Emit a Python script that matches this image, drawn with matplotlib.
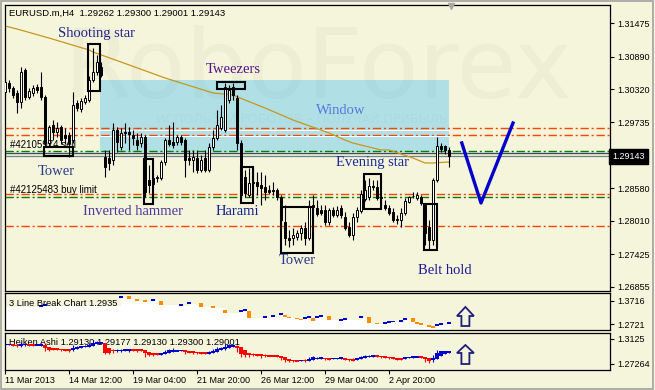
import matplotlib.pyplot as plt
from matplotlib.patches import Rectangle, Polygon
from matplotlib.transforms import blended_transform_factory
import numpy as np

plt.rcParams['font.family'] = ['Liberation Sans', 'DejaVu Sans']

# EURUSD.m H4 candles, bar 0 = 11 Mar 2013 20:00
opens = [1.3027, 1.3043, 1.3034, 1.3025, 1.3009, 1.3066, 1.3018, 1.3025, 1.3036, 1.3036,
         1.3018, 1.2938, 1.2969, 1.2957, 1.2966, 1.2952, 1.2952, 1.2943, 1.3008, 1.2997,
         1.3009, 1.3013, 1.3048, 1.3062, 1.3071, 1.2913, 1.2911, 1.2908, 1.2960, 1.2931,
         1.2957, 1.2957, 1.2952, 1.2943, 1.2938, 1.2948, 1.2873, 1.2876, 1.2876, 1.2876,
         1.2904, 1.2943, 1.2939, 1.2939, 1.2948, 1.2943, 1.2911, 1.2908, 1.2911, 1.2890,
         1.2911, 1.2890, 1.2931, 1.2946, 1.2964, 1.2960, 1.3013, 1.3036, 1.3017, 1.2938,
         1.2878, 1.2846, 1.2869, 1.2869, 1.2864, 1.2860, 1.2855, 1.2855, 1.2855, 1.2843,
         1.2799, 1.2771, 1.2771, 1.2773, 1.2780, 1.2789, 1.2771, 1.2825, 1.2824, 1.2820,
         1.2820, 1.2799, 1.2820, 1.2811, 1.2824, 1.2808, 1.2790, 1.2776, 1.2808, 1.2818,
         1.2839, 1.2843, 1.2862, 1.2860, 1.2841, 1.2829, 1.2824, 1.2817, 1.2803, 1.2803,
         1.2815, 1.2834, 1.2845, 1.2841, 1.2843, 1.2829, 1.2790, 1.2767, 1.2873, 1.2932,
         1.2932, 1.2925]
highs = [1.3052, 1.3048, 1.3038, 1.3031, 1.3071, 1.3069, 1.3034, 1.3039, 1.3041, 1.3062,
         1.3022, 1.2969, 1.2978, 1.2974, 1.2969, 1.2964, 1.2957, 1.3027, 1.3013, 1.3017,
         1.3022, 1.3055, 1.3104, 1.3092, 1.3080, 1.2925, 1.2925, 1.2973, 1.2966, 1.2964,
         1.2973, 1.2966, 1.2960, 1.2955, 1.2955, 1.2952, 1.2899, 1.2887, 1.2881, 1.2908,
         1.2946, 1.2969, 1.2974, 1.2952, 1.2952, 1.2946, 1.2925, 1.2925, 1.2925, 1.2917,
         1.2925, 1.2938, 1.2960, 1.2995, 1.3004, 1.3043, 1.3039, 1.3043, 1.3022, 1.2943,
         1.2890, 1.2894, 1.2894, 1.2887, 1.2887, 1.2881, 1.2864, 1.2869, 1.2859, 1.2846,
         1.2829, 1.2785, 1.2789, 1.2785, 1.2794, 1.2799, 1.2838, 1.2846, 1.2838, 1.2829,
         1.2829, 1.2824, 1.2825, 1.2827, 1.2829, 1.2817, 1.2799, 1.2815, 1.2825, 1.2855,
         1.2873, 1.2876, 1.2873, 1.2873, 1.2846, 1.2838, 1.2829, 1.2824, 1.2811, 1.2824,
         1.2841, 1.2845, 1.2852, 1.2852, 1.2846, 1.2832, 1.2803, 1.2876, 1.2948, 1.2938,
         1.2934, 1.2931]
lows = [1.3022, 1.3027, 1.3017, 1.2990, 1.2999, 1.3013, 1.3015, 1.3020, 1.3025, 1.3013,
        1.2932, 1.2932, 1.2943, 1.2948, 1.2936, 1.2936, 1.2913, 1.2938, 1.2994, 1.2992,
        1.3006, 1.3009, 1.3045, 1.3057, 1.3053, 1.2878, 1.2890, 1.2899, 1.2922, 1.2925,
        1.2938, 1.2925, 1.2934, 1.2925, 1.2931, 1.2843, 1.2850, 1.2859, 1.2869, 1.2873,
        1.2899, 1.2932, 1.2929, 1.2934, 1.2934, 1.2878, 1.2899, 1.2887, 1.2885, 1.2887,
        1.2887, 1.2887, 1.2925, 1.2943, 1.2960, 1.2957, 1.3008, 1.3013, 1.2925, 1.2843,
        1.2843, 1.2843, 1.2855, 1.2846, 1.2829, 1.2838, 1.2848, 1.2846, 1.2838, 1.2794,
        1.2759, 1.2755, 1.2759, 1.2767, 1.2767, 1.2759, 1.2767, 1.2820, 1.2810, 1.2811,
        1.2794, 1.2794, 1.2808, 1.2808, 1.2806, 1.2785, 1.2773, 1.2767, 1.2799, 1.2815,
        1.2836, 1.2838, 1.2855, 1.2838, 1.2829, 1.2820, 1.2811, 1.2799, 1.2795, 1.2790,
        1.2811, 1.2832, 1.2841, 1.2838, 1.2829, 1.2759, 1.2750, 1.2759, 1.2869, 1.2922,
        1.2918, 1.2896]
closes = [1.3045, 1.3034, 1.3022, 1.3009, 1.3062, 1.3018, 1.3029, 1.3034, 1.3031, 1.3018,
          1.2938, 1.2966, 1.2957, 1.2964, 1.2943, 1.2946, 1.2938, 1.3004, 1.2999, 1.3011,
          1.3017, 1.3048, 1.3062, 1.3080, 1.3057, 1.2896, 1.2903, 1.2960, 1.2939, 1.2955,
          1.2955, 1.2953, 1.2946, 1.2934, 1.2948, 1.2852, 1.2864, 1.2866, 1.2878, 1.2904,
          1.2943, 1.2936, 1.2934, 1.2948, 1.2939, 1.2908, 1.2908, 1.2913, 1.2890, 1.2908,
          1.2890, 1.2931, 1.2946, 1.2969, 1.2983, 1.3036, 1.3031, 1.3022, 1.2938, 1.2846,
          1.2850, 1.2867, 1.2867, 1.2862, 1.2859, 1.2852, 1.2852, 1.2853, 1.2843, 1.2803,
          1.2771, 1.2767, 1.2776, 1.2780, 1.2789, 1.2771, 1.2825, 1.2829, 1.2813, 1.2815,
          1.2799, 1.2820, 1.2811, 1.2820, 1.2811, 1.2789, 1.2776, 1.2808, 1.2820, 1.2848,
          1.2855, 1.2862, 1.2860, 1.2841, 1.2843, 1.2824, 1.2815, 1.2803, 1.2805, 1.2815,
          1.2836, 1.2843, 1.2845, 1.2846, 1.2832, 1.2780, 1.2767, 1.2873, 1.2932, 1.2927,
          1.2925, 1.29143]

# moving average read at some bars
ma_bar = [0, 3, 11, 21, 22, 29, 40, 52, 57, 60, 65, 72, 81, 85, 87, 94, 96, 102, 105, 107, 111]
ma_val = [1.31428, 1.31375, 1.31217, 1.31007, 1.30972, 1.30796, 1.30516, 1.30253, 1.30218, 1.30130,
          1.29990, 1.29779, 1.29551, 1.29428, 1.29375, 1.29253, 1.29253, 1.29112, 1.29025, 1.29025,
          1.29042]

# order / level lines
orange_levels = [1.29637, 1.29519, 1.28476, 1.27925]
green_levels = [1.29241, 1.28434]
price_ticks = [1.31475, 1.30890, 1.30320, 1.29735, 1.28580, 1.28010, 1.27425, 1.26855]
last_price = 1.29143

# candle pattern boxes: (first bar, last bar, low, high)
boxes = [(20.75, 23.75, 1.30288, 1.31112), (9.75, 17, 1.29147, 1.29305),
         (53, 60, 1.30323, 1.30446), (34.75, 37, 1.28306, 1.29095),
         (59, 62, 1.28323, 1.28955), (69, 77, 1.27446, 1.28253),
         (89.75, 94, 1.28218, 1.28832), (104.75, 108, 1.27499, 1.28306)]
labels = [('Shooting star', 22.75, 1.31305, '#23238c'), ('Tweezers', 57.1, 1.30656, '#55118c'),
          ('Window', 84, 1.29937, '#5577dd'), ('Tower', 12.9, 1.28867, '#2a3a8a'),
          ('Inverted hammer', 31.9, 1.28165, '#4a3a9a'), ('Harami', 58, 1.28165, '#10208c'),
          ('Tower', 73.1, 1.27306, '#2a3a8a'), ('Evening star', 91.75, 1.29025, '#1a2a9a'),
          ('Belt hold', 110, 1.27131, '#1a1a9a')]

# 3 line break bricks
lb_bar = [9, 10, 29, 31, 33, 35, 37, 39, 44, 46, 49, 52, 55, 59, 60, 61, 65, 67, 69, 70,
          71, 73, 74, 75, 76, 77, 78, 79, 81, 84, 85, 89, 91, 93, 95, 96, 97, 99, 100, 102,
          103, 104, 106, 107, 108, 109, 111]
lb_hi = [1.3532, 1.3575, 1.3917, 1.3917, 1.3789, 1.3746, 1.3789, 1.3703, 1.3575, 1.3660,
         1.3618, 1.3490, 1.3319, 1.3319, 1.3362, 1.3276, 1.3063, 1.3105, 1.3191, 1.3105,
         1.3020, 1.2977, 1.2935, 1.3020, 1.3063, 1.2977, 1.3063, 1.3105, 1.3063, 1.2935,
         1.2977, 1.3063, 1.3020, 1.2764, 1.2806, 1.2849, 1.2849, 1.2892, 1.2977, 1.2977,
         1.2806, 1.2764, 1.2678, 1.2636, 1.2721, 1.2764, 1.2806]
lb_lo = [1.3447, 1.3490, 1.3831, 1.3789, 1.3703, 1.3660, 1.3703, 1.3532, 1.3490, 1.3575,
         1.3447, 1.3404, 1.3191, 1.3233, 1.3276, 1.2977, 1.2977, 1.3020, 1.3105, 1.3020,
         1.2977, 1.2935, 1.2892, 1.2935, 1.2977, 1.2849, 1.2977, 1.3020, 1.2892, 1.2849,
         1.2892, 1.2977, 1.2764, 1.2721, 1.2721, 1.2764, 1.2806, 1.2806, 1.2892, 1.2806,
         1.2721, 1.2678, 1.2593, 1.2550, 1.2636, 1.2678, 1.2721]
lb_up = [1, 1, 1, 0, 0, 0, 1, 0, 1, 1, 0, 0, 0, 1, 1, 0, 1, 1, 1, 0,
         0, 0, 0, 1, 1, 0, 1, 1, 0, 1, 1, 1, 0, 0, 1, 1, 1, 1, 1, 0,
         0, 0, 0, 0, 1, 1, 1]

date_bars = [0, 16, 32, 48, 64, 80, 96]
date_labels = ['11 Mar 2013', '14 Mar 12:00', '19 Mar 04:00', '21 Mar 20:00',
               '26 Mar 12:00', '29 Mar 04:00', '2 Apr 20:00']

# forecast V line
v_bar = [114.2, 119, 127]
v_val = [1.29376, 1.28323, 1.29726]

bg = '#F5F5DC'
W, H = 655, 390
fig = plt.figure(figsize=(6.55, 3.9), dpi=100)
fig.patch.set_facecolor(bg)

def box(x0, y0, x1, y1):
    return [x0 / W, 1 - y1 / H, (x1 - x0) / W, (y1 - y0) / H]

ax = fig.add_axes(box(5, 4.5, 610, 291))
ax1 = fig.add_axes(box(5, 293.3, 610, 330))
ax2 = fig.add_axes(box(5, 332.7, 610, 370))

for a in (ax, ax1, ax2):
    a.set_facecolor(bg)
    a.set_xlim(0, 151.25)
    for s in a.spines.values():
        s.set_linewidth(0.9)
    a.yaxis.tick_right()
    a.tick_params(axis='y', direction='out', length=3, width=0.8, pad=2, labelsize=6.5)
    a.tick_params(axis='x', bottom=False, labelbottom=False)

# ---- main chart ----
ax.set_ylim(1.26779, 1.31805)
ax.set_yticks(price_ticks)
ax.set_yticklabels(['%.5f' % p for p in price_ticks])

ax.add_patch(Rectangle((23.75, 1.29218), 111 - 23.75, 1.30481 - 1.29218,
                       facecolor='#B0E0E6', edgecolor='none', zorder=1))
# faint watermark
ax.text(78.25, 1.30639, 'RoboForex', fontsize=70, color='#707060', alpha=0.05,
        ha='center', va='center', family='DejaVu Sans', zorder=1.5)
ax.text(110.5, 1.29779, 'ИСПОЛЬЗУЙ РОБОТОВ – ПОЛУЧАЙ ПРИБЫЛЬ', fontsize=9, color='#707060',
        alpha=0.06, ha='right', va='center', family='DejaVu Sans', zorder=1.5)

dd = (6, 2, 1.5, 2)
for lv in orange_levels:
    ax.axhline(lv, color='#FF4500', lw=1.0, dashes=dd, zorder=2)
for lv in green_levels:
    ax.axhline(lv, color='#008000', lw=1.0, dashes=dd, zorder=2)
for lv in [orange_levels[0] - 0.00038, orange_levels[1] - 0.00028]:
    ax.plot([23.75, 111], [lv, lv], color='white', lw=0.7, zorder=2)
ax.axhline(1.29200, color='#37505E', lw=1.0, zorder=2)
ax.axhline(last_price, color='#6E8290', lw=0.9, zorder=2)

ax.plot(ma_bar, ma_val, color='#C8961E', lw=0.9, zorder=2.5)

x = np.arange(len(opens))
ax.vlines(x, lows, highs, color='black', lw=0.8, zorder=3)
for i in range(len(opens)):
    o, c = opens[i], closes[i]
    up = c >= o
    ax.add_patch(Rectangle((i - 0.36, min(o, c)), 0.72, max(abs(c - o), 0.00004),
                           facecolor='white' if up else 'black', edgecolor='black',
                           lw=0.7, zorder=3.1))

for b in boxes:
    ax.add_patch(Rectangle((b[0], b[2]), b[1] - b[0], b[3] - b[2], fill=False,
                           edgecolor='black', lw=1.5, zorder=4))

for t, bx, by, col in labels:
    ax.text(bx, by, t, fontsize=10.5, color=col, family='Liberation Serif',
            ha='center', va='center', zorder=5)

ax.text(1.25, 1.29341, '#42105974 sell', fontsize=7, ha='left', va='center', zorder=5)
ax.text(1.25, 1.28551, '#42125483 buy limit', fontsize=7, ha='left', va='center', zorder=5)
ax.text(0.0066, 0.970, 'EURUSD.m,H4  1.29262 1.29300 1.29001 1.29143', fontsize=6.8,
        transform=ax.transAxes, ha='left', va='center', zorder=5)

ax.plot(v_bar, v_val, color='#0000CD', lw=2.4, zorder=5)
ax.plot([111.6], [1.3177], marker='v', color='#A8A8A8', ms=5, clip_on=False, zorder=6)

tr = blended_transform_factory(ax.transAxes, ax.transData)
ax.text(1.004, last_price, '1.29143', transform=tr, color='white', fontsize=6.5,
        ha='left', va='center', zorder=7,
        bbox=dict(boxstyle='square,pad=0.35', facecolor='black', edgecolor='black'))

# ---- 3 line break ----
ax1.set_ylim(1.24648, 1.40319)
ax1.set_yticks([1.3716, 1.2721])
ax1.set_yticklabels(['1.3716', '1.2721'])
fx = [0] + lb_bar + [111.6]
fy = [1.3447] + lb_lo + [lb_lo[-1]]
ax1.fill_between(fx, 1.2, fy, step='post', color='white', lw=0, zorder=1)
for i in range(len(lb_bar)):
    ax1.add_patch(Rectangle((lb_bar[i] - 0.45, lb_lo[i]), 0.9, lb_hi[i] - lb_lo[i],
                            facecolor='#0000CD' if lb_up[i] else '#FF8C00',
                            edgecolor='none', zorder=2))
ax1.text(0.0066, 0.722, '3 Line Break Chart 1.2935', fontsize=6.7, transform=ax1.transAxes,
         ha='left', va='center', zorder=3)

# ---- heiken ashi ----
o = np.array(opens); h = np.array(highs); l = np.array(lows); c = np.array(closes)
ha_c = (o + h + l + c) / 4
ha_o = np.zeros(len(o))
ha_o[0] = (o[0] + c[0]) / 2
for i in range(1, len(o)):
    ha_o[i] = (ha_o[i - 1] + ha_c[i - 1]) / 2
ha_h = np.maximum(h, np.maximum(ha_o, ha_c))
ha_l = np.minimum(l, np.minimum(ha_o, ha_c))
ha_col = np.where(ha_c >= ha_o, '#0000CD', '#FF0000')

ax2.set_ylim(1.26307, 1.32254)
ax2.set_yticks([1.3125, 1.27264])
ax2.set_yticklabels(['1.3125', '1.27264'])
ax2.text(0.0066, 0.724, 'Heiken Ashi 1.29130 1.29177 1.29130 1.29300 1.29001', fontsize=6.7,
         transform=ax2.transAxes, ha='left', va='center', zorder=1)
ax2.vlines(x, ha_l, ha_h, colors=ha_col, lw=0.8, zorder=2)
ha_mid = (ha_o + ha_c) / 2
ha_len = np.maximum(np.abs(ha_c - ha_o), 0.0028)
ax2.bar(x, ha_len, bottom=ha_mid - ha_len / 2, width=0.8, color=ha_col, zorder=2)

ax2.tick_params(axis='x', bottom=True, labelbottom=True, direction='out', length=3,
                width=0.8, pad=1.5, labelsize=6.5)
ax2.set_xticks(date_bars)
ax2.set_xticklabels(date_labels, ha='left')

# hollow up arrows
for a, (yb, yh, yt) in [(ax1, (0.109, 0.381, 0.627)), (ax2, (0.161, 0.456, 0.670))]:
    cx, sw, hw = 0.761, 0.0066, 0.014
    pts = [(cx - sw, yb), (cx - sw, yh), (cx - hw, yh), (cx, yt),
           (cx + hw, yh), (cx + sw, yh), (cx + sw, yb)]
    a.add_patch(Polygon(pts, closed=True, fill=False, edgecolor='#1E1E78', lw=1.3,
                        transform=a.transAxes, zorder=5))

fig.add_artist(Rectangle((0.001, 0.002), 652 / W, 0.996, transform=fig.transFigure,
                         fill=False, edgecolor='#A0A0A0', lw=1.2))

fig.savefig('out.png', dpi=100, facecolor=bg)
